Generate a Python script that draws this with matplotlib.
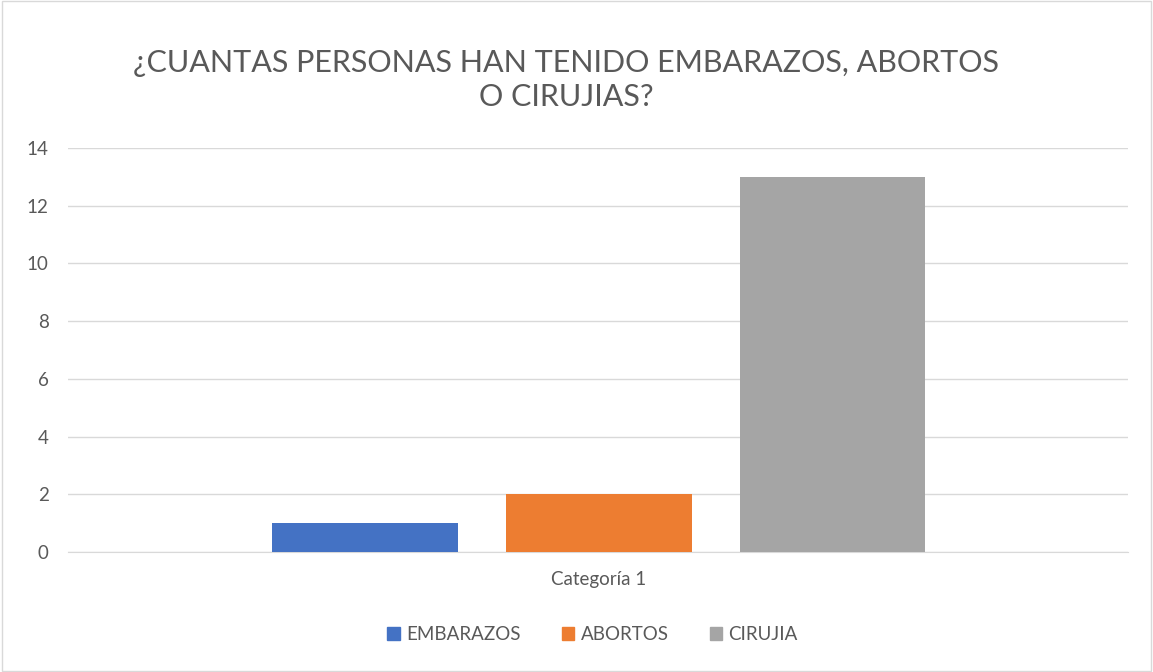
import matplotlib
matplotlib.use("Agg")
import matplotlib.pyplot as plt
from matplotlib.patches import Patch, Rectangle

series = ["EMBARAZOS", "ABORTOS", "CIRUJIA"]
values = [1, 2, 13]
category = "Categoría 1"
colors = ["#4472C4", "#ED7D31", "#A5A5A5"]
yticks = [0, 2, 4, 6, 8, 10, 12, 14]
title = "¿CUANTAS PERSONAS HAN TENIDO EMBARAZOS, ABORTOS\nO CIRUJIAS?"

plt.rcParams['font.family'] = ['Lato', 'DejaVu Sans']
txt = "#595959"

fig = plt.figure(figsize=(11.53, 6.72), dpi=100)
fig.patches.append(Rectangle((0.002, 0.002), 0.996, 0.996, transform=fig.transFigure,
                             fill=False, edgecolor="#D9D9D9", linewidth=1))
ax = fig.add_axes([0.059, 0.1786, 0.919, 0.6012])

x = list(range(len(series)))
width = 0.795
for xi, v, c, s in zip(x, values, colors, series):
    ax.bar(xi, v, width=width, color=c, label=s, zorder=3)

ax.set_xlim(-1.269, 3.262)
ax.set_ylim(0, 14)
ax.set_yticks(yticks)
ax.set_yticklabels([str(t) for t in yticks], fontsize=13.5, color=txt)
ax.yaxis.grid(True, color="#D9D9D9", linewidth=1, zorder=0)
ax.set_xticks([1])
ax.set_xticklabels([category], fontsize=13.5, color=txt)
ax.tick_params(axis='both', length=0)
ax.tick_params(axis='y', pad=14)
ax.tick_params(axis='x', pad=14)
for sp in ["top", "right", "left"]:
    ax.spines[sp].set_visible(False)
ax.spines["bottom"].set_color("#D9D9D9")

fig.text(0.491, 0.881, title, ha="center", va="center", fontsize=22, color=txt,
         linespacing=1.3)

handles = [Patch(color=c) for c in colors]
fig.legend(handles, series, loc="center", bbox_to_anchor=(0.514, 0.056), ncol=3,
           frameon=False, fontsize=13.5, labelcolor=txt, handlelength=0.65,
           handleheight=0.65, handletextpad=0.35, columnspacing=2.2)

fig.savefig("out.png", dpi=100)
